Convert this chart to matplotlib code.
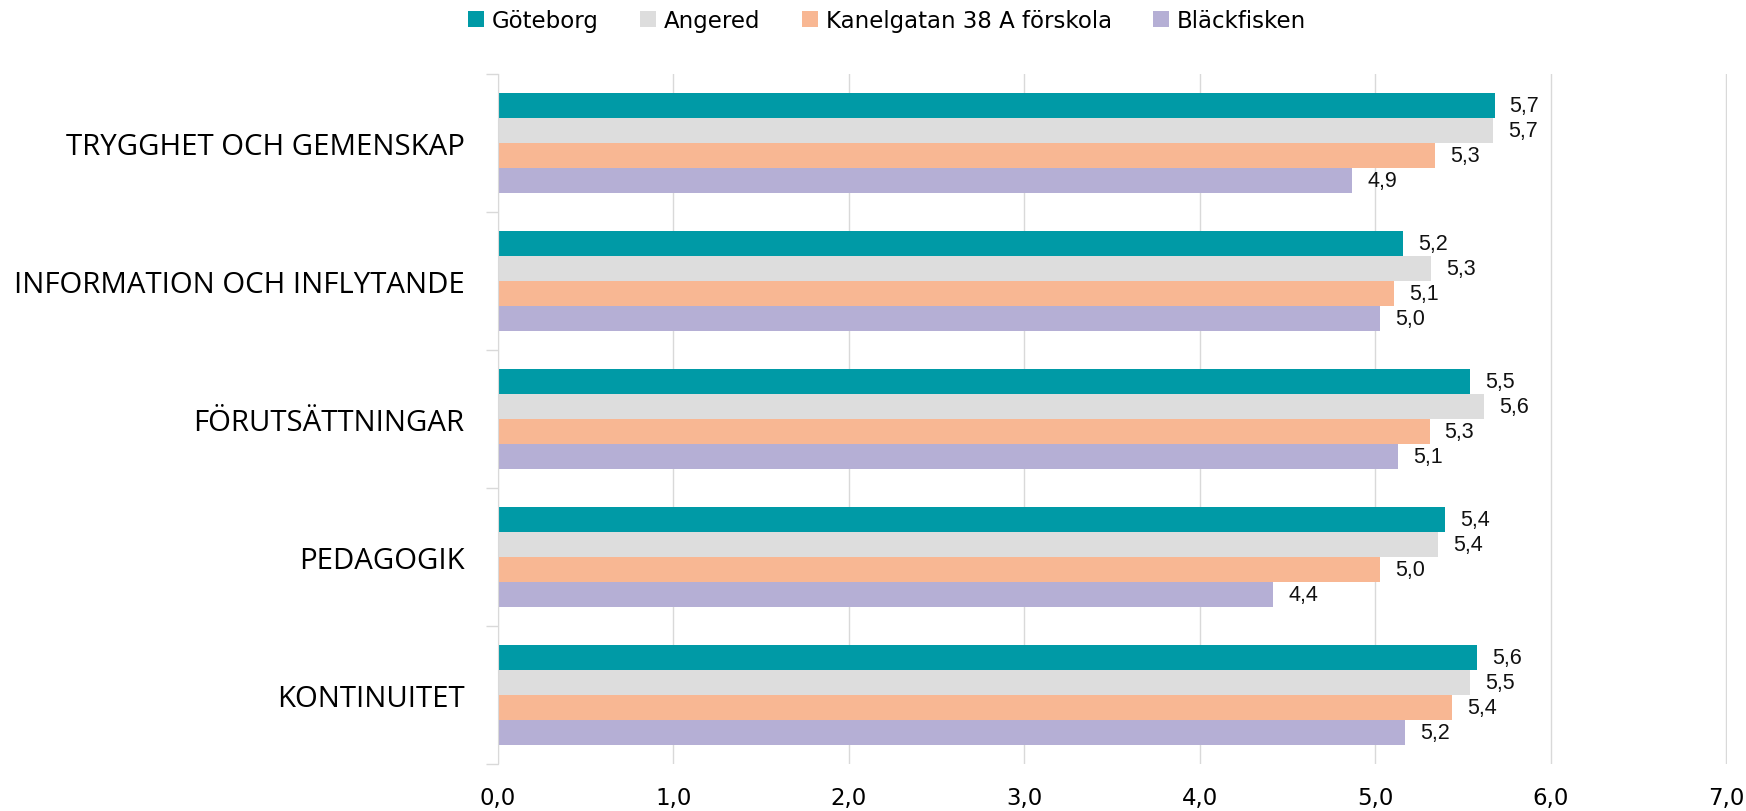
import matplotlib.pyplot as plt
import numpy as np
from matplotlib.patches import Patch

categories = [
    'TRYGGHET OCH GEMENSKAP',
    'INFORMATION OCH INFLYTANDE',
    'FÖRUTSÄTTNINGAR',
    'PEDAGOGIK',
    'KONTINUITET',
]
series_names = ['Göteborg', 'Angered', 'Kanelgatan 38 A förskola', 'Bläckfisken']
goteborg = [5.68, 5.16, 5.54, 5.40, 5.58]
angered = [5.67, 5.32, 5.62, 5.36, 5.54]
kanelgatan = [5.34, 5.11, 5.31, 5.03, 5.44]
blackfisken = [4.87, 5.03, 5.13, 4.42, 5.17]
series_values = [goteborg, angered, kanelgatan, blackfisken]
colors = ['#009AA6', '#DDDDDD', '#F8B793', '#B5AFD5']
xticks = [0, 1, 2, 3, 4, 5, 6, 7]


def comma(v, digits=1):
    return f'{v:.{digits}f}'.replace('.', ',')


fig = plt.figure(figsize=(17.46, 8.12), dpi=100)
ax = fig.add_axes([0.2852, 0.0579, 0.7039, 0.8497])

y = np.arange(len(categories))
h = 0.18
offsets = [-1.5 * h, -0.5 * h, 0.5 * h, 1.5 * h]

for vals, off, col in zip(series_values, offsets, colors):
    bars = ax.barh(y + off, vals, height=h, color=col, zorder=3)
    for b, v in zip(bars, vals):
        ax.annotate(comma(v), (b.get_width(), b.get_y() + b.get_height() / 2),
                    xytext=(15, 0), textcoords='offset pixels',
                    ha='left', va='center', fontsize=15.5,
                    family='Liberation Sans', color='#111111')

ax.set_xlim(0, 7.005)
ax.set_ylim(len(categories) - 0.5, -0.5)
ax.set_xticks(xticks)
ax.set_xticklabels([comma(t) for t in xticks],
                   family=['Liberation Sans Narrow', 'DejaVu Sans'], fontsize=16.5)
ax.tick_params(axis='x', length=0, pad=16)

ax.set_yticks(y)
ax.set_yticklabels(categories, family='Open Sans', fontsize=21.2)
ax.set_yticks(np.arange(-0.5, len(categories), 1), minor=True)
ax.tick_params(axis='y', which='major', length=0, pad=24)
ax.tick_params(axis='y', which='minor', length=9, color='#D9D9D9', width=1)

ax.grid(axis='x', color='#D9D9D9', linewidth=1, zorder=0)
for s in ['top', 'right', 'bottom']:
    ax.spines[s].set_visible(False)
ax.spines['left'].set_color('#D9D9D9')
ax.spines['left'].set_zorder(4)

handles = [Patch(facecolor=c, label=n) for c, n in zip(colors, series_names)]
fig.legend(handles=handles, loc='center', bbox_to_anchor=(0.508, 0.973),
           ncol=4, frameon=False, handlelength=0.7, handleheight=0.7,
           handletextpad=0.35, columnspacing=1.8,
           prop={'family': ['Liberation Sans Narrow', 'DejaVu Sans'], 'size': 16.5})

fig.savefig('out.png', dpi=100)
